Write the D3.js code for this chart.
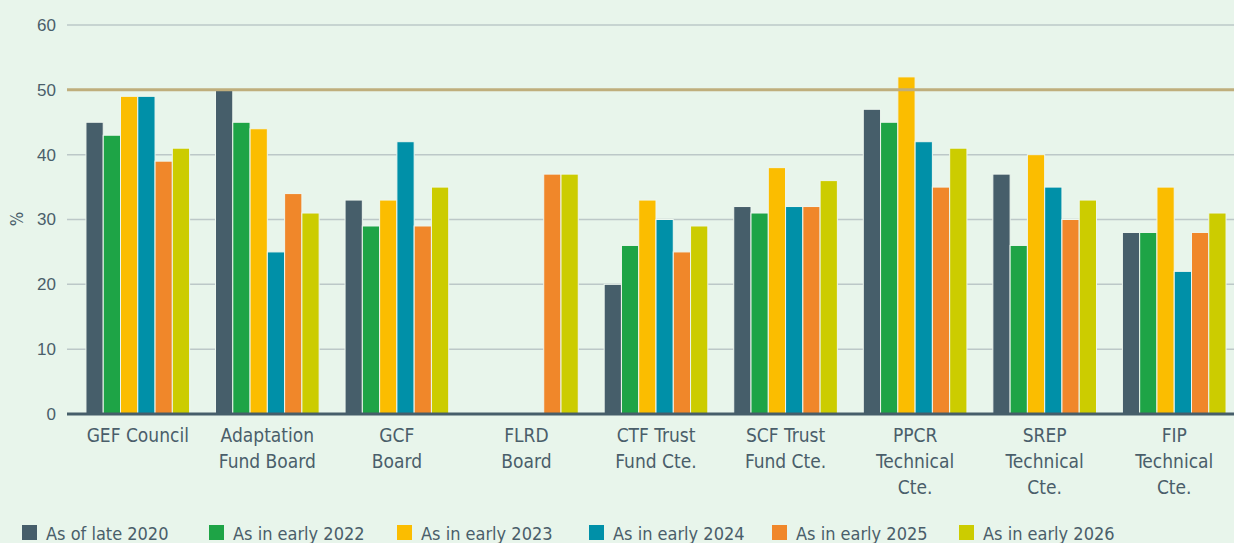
<!DOCTYPE html>
<html>
<head>
<meta charset="utf-8">
<script src="https://cdn.jsdelivr.net/npm/d3@7"></script>
<style>
  body { margin: 0; background: #e8f5eb; }
  svg { display: block; font-family: "Liberation Sans Narrow", "DejaVu Sans Condensed", sans-serif; }
  .tick text { fill: #4a5e6a; }
</style>
</head>
<body>
<svg id="chart" width="1234" height="543"></svg>
<script>
// bodies (category labels are split on "|")
let bodies = ['GEF Council', 'Adaptation|Fund Board', 'GCF|Board', 'FLRD|Board', 'CTF Trust|Fund Cte.',
              'SCF Trust|Fund Cte.', 'PPCR|Technical|Cte.', 'SREP|Technical|Cte.', 'FIP|Technical|Cte.'];
let seriesNames = ['As of late 2020', 'As in early 2022', 'As in early 2023',
                   'As in early 2024', 'As in early 2025', 'As in early 2026'];
let late2020  = [45, 50, 33, null, 20, 32, 47, 37, 28];
let early2022 = [43, 45, 29, null, 26, 31, 45, 26, 28];
let early2023 = [49, 44, 33, null, 33, 38, 52, 40, 35];
let early2024 = [49, 25, 42, null, 30, 32, 42, 35, 22];
let early2025 = [39, 34, 29, 37, 25, 32, 35, 30, 28];
let early2026 = [41, 31, 35, 37, 29, 36, 41, 33, 31];
let yTicks = [0, 10, 20, 30, 40, 50, 60];
let target = 50;

let series = [late2020, early2022, early2023, early2024, early2025, early2026];
let colors = ['#465e6a', '#1ea446', '#fbbd00', '#0090a8', '#f0872a', '#cccc00'];

let svg = d3.select('#chart');
let textColor = '#4a5e6a';

let y = d3.scaleLinear().domain([0, 60]).range([414, 25]);
let x = d3.scaleBand().domain(bodies).range([73, 1239]).paddingInner(0.2).paddingOuter(0.1);
let xs = d3.scaleBand().domain(d3.range(series.length)).range([0, x.bandwidth()]);

// grid
svg.append('g')
  .selectAll('line')
  .data(yTicks.filter(d => d > 0 && d !== target))
  .enter()
  .append('line')
  .attr('x1', 67).attr('x2', 1234)
  .attr('y1', d => y(d)).attr('y2', d => y(d))
  .attr('stroke', '#bcc8c8').attr('stroke-width', 1.5);

// y tick labels
svg.append('g')
  .attr('transform', 'translate(60,0)')
  .call(d3.axisLeft(y).tickValues(yTicks).tickSize(0).tickPadding(4))
  .call(g => g.select('.domain').remove())
  .selectAll('text')
  .attr('font-size', 17)
  .attr('fill', textColor);

svg.append('text')
  .attr('transform', 'translate(23,219) rotate(-90)')
  .attr('text-anchor', 'middle')
  .attr('font-size', 17)
  .attr('fill', textColor)
  .text('%');

// bars
let groups = svg.append('g')
  .selectAll('g')
  .data(bodies)
  .enter()
  .append('g')
  .attr('transform', d => 'translate(' + x(d) + ',0)');

groups.selectAll('rect')
  .data((d, i) => series.map((s, j) => ({ v: s[i], k: j })).filter(e => e.v !== null))
  .enter()
  .append('rect')
  .attr('x', d => xs(d.k))
  .attr('width', xs.bandwidth())
  .attr('y', d => y(d.v))
  .attr('height', d => y(0) - y(d.v))
  .attr('fill', d => colors[d.k])
  .attr('stroke', '#eef7ef')
  .attr('stroke-width', 1);

// 50% line
svg.append('line')
  .attr('x1', 67).attr('x2', 1234)
  .attr('y1', y(target)).attr('y2', y(target))
  .attr('stroke', '#bfae7c').attr('stroke-width', 3);

// baseline
svg.append('line')
  .attr('x1', 67).attr('x2', 1234)
  .attr('y1', y(0)).attr('y2', y(0))
  .attr('stroke', '#465e6a').attr('stroke-width', 3);

// category labels
let labels = svg.append('g')
  .selectAll('text')
  .data(bodies)
  .enter()
  .append('text')
  .attr('text-anchor', 'middle')
  .attr('font-size', 19)
  .attr('fill', textColor);

labels.selectAll('tspan')
  .data(d => d.split('|').map(t => ({ t: t, c: x(d) + x.bandwidth() / 2 })))
  .enter()
  .append('tspan')
  .attr('x', d => d.c)
  .attr('y', (d, i) => 442 + i * 26)
  .text(d => d.t);

// legend
let legendX = [22, 209, 397, 589, 772, 959];
let legend = svg.append('g')
  .selectAll('g')
  .data(seriesNames)
  .enter()
  .append('g')
  .attr('transform', (d, i) => 'translate(' + legendX[i] + ',525)');

legend.append('rect')
  .attr('width', 15).attr('height', 15)
  .attr('fill', (d, i) => colors[i]);

legend.append('text')
  .attr('x', 24).attr('y', 15)
  .attr('font-size', 18)
  .attr('fill', textColor)
  .text(d => d);
</script>
</body>
</html>
